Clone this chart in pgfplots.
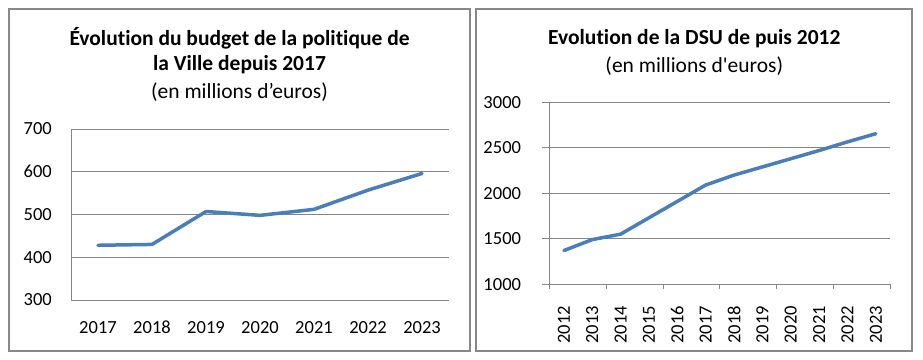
\documentclass[border=0pt]{standalone}
\usepackage{pgfplots}
\pgfplotsset{compat=1.18}
\usepackage{fontspec}
\setmainfont{Carlito}[Ligatures={NoCommon}]
\definecolor{gridgray}{RGB}{134,134,134}
\definecolor{framegray}{RGB}{136,136,136}
\definecolor{lineblue}{RGB}{74,126,187}
\begin{document}
\begin{tikzpicture}
\useasboundingbox (0bp,0bp) rectangle (923bp,360bp);
% panel frames
\draw[framegray, line width=2bp] (9bp,350.5bp) rectangle (470bp,9bp);
\draw[framegray, line width=2bp] (476bp,350.5bp) rectangle (912bp,9bp);
% titles
\node[font=\fontsize{21.5bp}{24bp}\selectfont\bfseries] at (239.5bp,321.7bp) {Évolution du budget de la politique de};
\node[font=\fontsize{21.5bp}{24bp}\selectfont\bfseries] at (239.5bp,295bp) {la Ville depuis 2017};
\node[font=\fontsize{21.5bp}{24bp}\selectfont] at (239.5bp,267.7bp) {(en millions d’euros)};
\node[font=\fontsize{21.5bp}{24bp}\selectfont\bfseries] at (694.3bp,321.7bp) {Evolution de la DSU de puis 2012};
\node[font=\fontsize{21.5bp}{24bp}\selectfont] at (694.3bp,294.3bp) {(en millions d\textquotesingle euros)};

\begin{axis}[at={(71bp,60bp)}, anchor=south west, scale only axis,
  width=378bp, height=171bp,
  xmin=-0.5, xmax=6.5, ymin=300, ymax=700,
  xtick={0,...,6}, xticklabels={2017,2018,2019,2020,2021,2022,2023},
  ytick={300,400,500,600,700},
  axis x line*=bottom, axis y line*=left,
  axis line style={draw=gridgray, line width=1bp},
  ymajorgrids, grid style={draw=gridgray, line width=1bp},
  tick style={draw=none}, major tick length=0pt,
  tick label style={font=\fontsize{18.5bp}{22bp}\selectfont, text=black},
  yticklabel style={anchor=east, inner sep=0pt},
  yticklabel shift=19bp,
  xticklabel style={anchor=base, inner sep=0pt},
  xticklabel shift=33bp,
  /pgf/number format/assume math mode=true,
  /pgf/number format/1000 sep={},
  clip=false]
\addplot[lineblue, line width=3.5bp, line join=round, line cap=round] coordinates {
(0,428) (1,430) (2,507) (3,498) (4,512) (5,557) (6,596)};
\end{axis}

\begin{axis}[at={(549.7bp,75.7bp)}, anchor=south west, scale only axis,
  width=340.3bp, height=182bp,
  xmin=-0.5, xmax=11.5, ymin=1000, ymax=3000,
  xtick={0,...,11},
  xticklabels={2012,2013,2014,2015,2016,2017,2018,2019,2020,2021,2022,2023},
  minor xtick={-0.5,1.5,3.5,5.5,7.5,9.5,11.5},
  ytick={1000,1500,2000,2500,3000},
  axis x line*=bottom, axis y line*=left,
  axis line style={draw=gridgray, line width=1bp},
  ymajorgrids, grid style={draw=gridgray, line width=1bp},
  tick align=outside,
  major tick length=7.5bp, minor tick length=5bp,
  major x tick style={draw=none},
  minor x tick style={draw=gridgray, line width=1bp},
  major y tick style={draw=gridgray, line width=1bp},
  tick label style={font=\fontsize{18.5bp}{22bp}\selectfont, text=black},
  yticklabel style={anchor=east, inner sep=0pt},
  yticklabel shift=21bp,
  xticklabel style={rotate=90, anchor=east, inner sep=0pt},
  xticklabel shift=14bp,
  /pgf/number format/assume math mode=true,
  /pgf/number format/1000 sep={},
  clip=false]
\addplot[lineblue, line width=3.5bp, line join=round, line cap=round] coordinates {
(0,1371) (1,1491) (2,1551) (3,1731) (4,1911) (5,2091) (6,2200) (7,2290) (8,2380) (9,2470) (10,2565) (11,2655)};
\end{axis}
\end{tikzpicture}
\end{document}
